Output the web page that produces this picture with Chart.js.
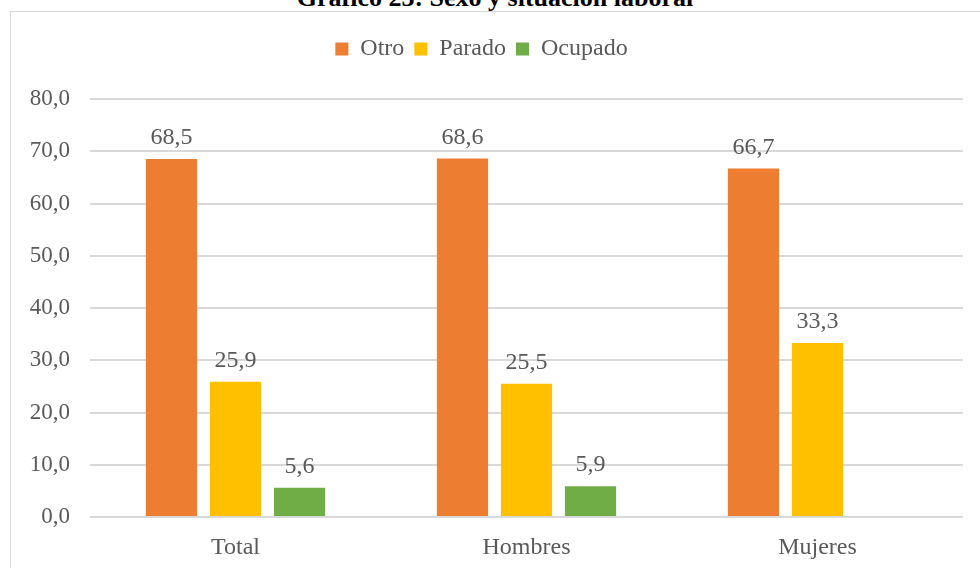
<!DOCTYPE html>
<html><head><meta charset="utf-8">
<script src="https://cdn.jsdelivr.net/npm/chart.js@4.4.1/dist/chart.umd.min.js"></script>
<style>
html,body{margin:0;padding:0;background:#fff;overflow:hidden;}
#wrap{position:relative;width:980px;height:568px;overflow:hidden;}
#frame{position:absolute;left:10px;top:11px;width:980px;height:570px;border:1px solid #d9d9d9;box-sizing:border-box;pointer-events:none;}
#title{position:absolute;left:0;width:990px;top:-17px;line-height:26px;text-align:center;font:bold 26px "Liberation Serif","Times New Roman",serif;color:#000;white-space:nowrap;}
#probe{position:absolute;left:-9999px;top:0;font:24px "Liberation Serif";}
canvas{position:absolute;left:0;top:0;}
</style></head>
<body>
<div id="wrap">
<div id="title">Gráfico 23: Sexo y situación laboral</div>
<div id="probe">Otro 0,0</div>
<div id="frame"></div>
<canvas id="c" width="980" height="568"></canvas>
</div>
<script>
const categories = ["Total", "Hombres", "Mujeres"];
const seriesNames = ["Otro", "Parado", "Ocupado"];
const otro = [68.5, 68.6, 66.7];
const parado = [25.9, 25.5, 33.3];
const ocupado = [5.6, 5.9, null];
const yTicks = [0, 10, 20, 30, 40, 50, 60, 70, 80];

const FONT = "Liberation Serif";
const GREY = '#595959';
const fmt = v => v.toFixed(1).replace('.', ',');

Chart.defaults.font.family = FONT;
Chart.defaults.font.size = 24;
Chart.defaults.color = GREY;

const valueLabels = {
  id: 'valueLabels',
  afterDatasetsDraw(chart) {
    const ctx = chart.ctx;
    ctx.save();
    ctx.font = '24px "Liberation Serif"';
    ctx.fillStyle = GREY;
    ctx.textAlign = 'center';
    ctx.textBaseline = 'bottom';
    chart.data.datasets.forEach((ds, i) => {
      const meta = chart.getDatasetMeta(i);
      meta.data.forEach((bar, j) => {
        const v = ds.data[j];
        if (v === null || v === undefined) return;
        ctx.fillText(fmt(v), bar.x, bar.y - 9);
      });
    });
    ctx.restore();
  }
};

const legendSpacer = {
  id: 'legendSpacer',
  afterInit(chart) {
    const lg = chart.legend;
    if (!lg) return;
    const orig = lg.fit;
    lg.fit = function () { orig.call(this); this.height += 28; };
  }
};

function draw() {
  new Chart(document.getElementById('c'), {
    type: 'bar',
    data: {
      labels: categories,
      datasets: [
        { label: seriesNames[0], data: otro, backgroundColor: '#ED7D31' },
        { label: seriesNames[1], data: parado, backgroundColor: '#FFC000' },
        { label: seriesNames[2], data: ocupado, backgroundColor: '#70AD47' }
      ]
    },
    options: {
      responsive: false,
      animation: false,
      devicePixelRatio: 1,
      layout: { padding: { left: 0, right: 17, top: 27, bottom: 0 } },
      datasets: { bar: { categoryPercentage: 0.66, barPercentage: 0.8 } },
      plugins: {
        legend: {
          position: 'top',
          labels: {
            boxWidth: 13, boxHeight: 13, padding: 10,
            color: GREY, font: { family: FONT, size: 24 }
          }
        },
        tooltip: { enabled: false },
        title: { display: false }
      },
      scales: {
        x: {
          grid: { display: false },
          border: { display: false },
          ticks: { color: GREY, font: { family: FONT, size: 24 }, padding: 8 },
          afterFit(s) { s.height = 51; }
        },
        y: {
          min: 0, max: 80,
          afterBuildTicks(s) { s.ticks = yTicks.map(v => ({ value: v })); },
          grid: { color: '#d9d9d9', lineWidth: 2, drawTicks: false },
          border: { display: false },
          ticks: { color: GREY, font: { family: FONT, size: 23 }, padding: 20, callback: v => fmt(v) },
          afterFit(s) { s.width = 90; }
        }
      }
    },
    plugins: [legendSpacer, valueLabels]
  });
}

if (document.fonts && document.fonts.load) {
  Promise.all([
    document.fonts.load('24px "Liberation Serif"'),
    document.fonts.load('23px "Liberation Serif"')
  ]).then(draw, draw);
} else {
  draw();
}
</script>
</body></html>
